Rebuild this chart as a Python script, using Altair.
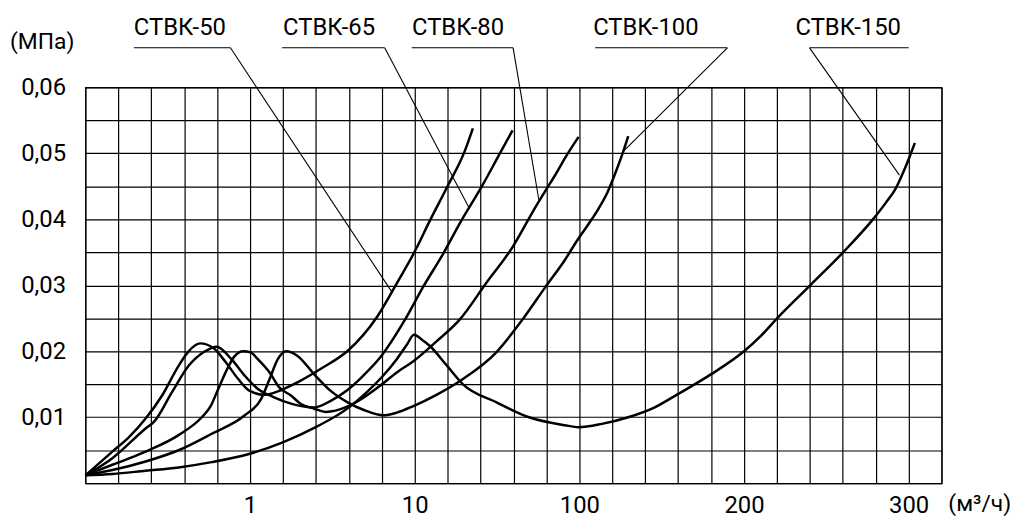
import altair as alt
import pandas as pd

# ---- curve data: flow (m3/h) vs pressure drop (MPa) ----
SERIES = ["СТВК-50", "СТВК-65", "СТВК-80", "СТВК-100", "СТВК-150"]

FLOW_50 = [0, 0.164, 0.265, 0.366, 0.466, 0.566, 0.627, 0.697, 0.777, 0.848, 0.928, 0.998,
           1.80, 2.68, 3.60, 4.96, 6.31, 7.94, 9.02, 10.16, 18.3, 28.3, 37.3, 41.8]
DP_50 = [0.0012, 0.0048, 0.0070, 0.0098, 0.0133, 0.0178, 0.0200, 0.0212, 0.0205, 0.0185, 0.0158, 0.0140,
         0.0134, 0.0141, 0.0153, 0.0175, 0.0200, 0.0252, 0.0303, 0.0352, 0.0398, 0.0452, 0.0503, 0.0538]

FLOW_65 = [0, 0.164, 0.366, 0.416, 0.526, 0.627, 0.727, 0.797, 0.887, 0.968, 1.43, 2.25, 3.33, 4.51,
           5.41, 6.31, 7.22, 8.12, 9.47, 14.7, 25.6, 35.5, 46.3, 56.2, 63.5]
DP_65 = [0.0012, 0.0038, 0.0083, 0.0093, 0.0138, 0.0178, 0.0200, 0.0207, 0.0188, 0.0163, 0.0143, 0.0131, 0.0120, 0.0115,
         0.0125, 0.0141, 0.0164, 0.0191, 0.0248, 0.0298, 0.0348, 0.0398, 0.0448, 0.0498, 0.0535]

FLOW_80 = [0, 0.164, 0.366, 0.566, 0.707, 0.759, 0.807, 0.867, 0.904, 0.958, 1.054, 1.43, 2.07, 2.61, 3.24,
           3.78, 4.51, 5.14, 6.31, 7.22, 8.12, 9.02, 9.93, 21.9, 34.6, 49.0, 63.5, 76.1, 81.6, 87.0, 92.4, 99.6]
DP_80 = [0.0012, 0.0028, 0.0048, 0.0073, 0.0100, 0.0116, 0.0143, 0.0176, 0.0192, 0.0200, 0.0198, 0.0188, 0.0168, 0.0145, 0.0133,
         0.0120, 0.0113, 0.0108, 0.0116, 0.0130, 0.0148, 0.0168, 0.0185, 0.0215, 0.0248, 0.0303, 0.0358, 0.0419, 0.0444, 0.0468, 0.0494, 0.0525]

FLOW_100 = [0, 0.164, 0.366, 0.566, 0.767, 0.968, 1.61, 2.07, 2.52, 2.97, 3.60, 4.51, 5.41, 6.31, 7.22,
            8.30, 9.02, 9.93, 21.9, 36.4, 54.5, 68.9, 81.6, 92.0, 98.8, 105.6, 111.6, 116.9, 122.3, 126.7, 129.7]
DP_100 = [0.0012, 0.0020, 0.0033, 0.0050, 0.0075, 0.0103, 0.0128, 0.0158, 0.0188, 0.0200, 0.0193, 0.0165, 0.0140, 0.0123, 0.0111,
          0.0103, 0.0107, 0.0117, 0.0134, 0.0158, 0.0198, 0.0248, 0.0298, 0.0338, 0.0368, 0.0393, 0.0416, 0.0440, 0.0473, 0.0503, 0.0526]

FLOW_150 = [0, 0.164, 0.366, 0.566, 0.767, 0.988, 2.79, 4.59, 6.41, 7.22, 8.21, 9.02, 9.57, 9.96, 13.8, 18.3,
            27.4, 36.4, 54.5, 72.5, 92.0, 99.6, 113.7, 129.7, 145.8, 159.8, 179.9, 200, 210.1, 220.1, 240.2,
            260.2, 279.3, 286.1, 292.2, 297.0, 300.6, 303.8]
DP_150 = [0.0012, 0.0014, 0.0019, 0.0024, 0.0032, 0.0044, 0.0062, 0.0085, 0.0115, 0.0134, 0.0161, 0.0188, 0.0210, 0.0225, 0.0218, 0.0208,
          0.0179, 0.0150, 0.0123, 0.0100, 0.0088, 0.0085, 0.0090, 0.0100, 0.0115, 0.0135, 0.0165, 0.0200, 0.0223, 0.0250, 0.0300,
          0.0350, 0.0403, 0.0425, 0.0447, 0.0473, 0.0495, 0.0516]

# ---- label / leader annotation data (in data units) ----
LABEL_X = [0.574, 5.32, 33.7, 140.4, 263.3]
LABEL_Y = 0.0679
UNDER_X1 = [0.295, 2.75, 9.84, 109.6, 239.8]
UNDER_X2 = [0.881, 8.36, 63.8, 189.9, 300.0]
UNDER_Y = 0.0660
LEADER_FROM = [0.881, 8.36, 63.8, 189.9, 239.8]
TIP_X = [8.75, 40.0, 77.9, 126.7, 294.4]
TIP_Y = [0.0290, 0.0416, 0.0429, 0.0503, 0.0467]

# ---- axis tick values ----
X_GRID = [0, 0.2, 0.4, 0.6, 0.8, 1, 2.8, 4.6, 6.4, 8.2, 10, 28, 46, 64, 82, 100,
          120, 140, 160, 180, 200, 220, 240, 260, 280, 300, 320]
X_LABELS = [1, 10, 100, 200, 300]
Y_GRID = [0, 0.005, 0.01, 0.015, 0.02, 0.025, 0.03, 0.035, 0.04, 0.045, 0.05, 0.055, 0.06]

rows = []
for name, fl, dp in zip(SERIES, [FLOW_50, FLOW_65, FLOW_80, FLOW_100, FLOW_150],
                        [DP_50, DP_65, DP_80, DP_100, DP_150]):
    for f, d in zip(fl, dp):
        rows.append({"series": name, "flow": f, "dp": d})
curves = pd.DataFrame(rows)

under = pd.DataFrame({"series": SERIES, "flow": UNDER_X1, "flow2": UNDER_X2,
                      "dp": [UNDER_Y] * 5, "dp2": [UNDER_Y] * 5})
leader = pd.DataFrame({"series": SERIES, "flow": LEADER_FROM, "flow2": TIP_X,
                       "dp": [UNDER_Y] * 5, "dp2": TIP_Y})
labels = pd.DataFrame({"series": SERIES, "flow": LABEL_X, "dp": [LABEL_Y] * 5})

W, H = 863, 399
FONT = "Roboto"

x_scale = alt.Scale(domain=[0, 1, 10, 100, 320],
                    range=[0, W * 5 / 26, W * 10 / 26, W * 15 / 26, W],
                    zero=False, nice=False)
y_scale = alt.Scale(domain=[0, 0.06], zero=False, nice=False)

x_axis = alt.Axis(values=X_GRID, grid=True, gridColor="black", gridWidth=1.2, gridOpacity=1,
                  domain=False, ticks=False, tickSize=0, labelOverlap=False, labelFlush=False,
                  labelExpr="indexof(%s, datum.value) >= 0 ? toString(datum.value) : ''" % X_LABELS,
                  labelFont=FONT, labelFontSize=24, labelColor="black", labelPadding=10,
                  title="(м³/ч)", titleFont=FONT, titleFontSize=23, titleFontWeight="normal",
                  titleColor="black", titleX=901, titleY=20, titleAlign="center",
                  titleBaseline="middle", titleAngle=0)
y_axis = alt.Axis(values=Y_GRID, grid=True, gridColor="black", gridWidth=1.2, gridOpacity=1,
                  domain=False, ticks=False, tickSize=0, labelOverlap=False, labelFlush=False,
                  labelExpr="datum.value > 0.0001 && round(datum.value*1000) % 10 == 0 ? "
                            "replace(format(datum.value, '.2f'), '.', ',') : ''",
                  labelFont=FONT, labelFontSize=24, labelColor="black", labelPadding=20,
                  title="(МПа)", titleFont=FONT, titleFontSize=23, titleFontWeight="normal",
                  titleColor="black", titleX=-44, titleY=-46, titleAlign="center",
                  titleBaseline="middle", titleAngle=0)

X = alt.X("flow:Q", scale=x_scale, axis=x_axis)
Y = alt.Y("dp:Q", scale=y_scale, axis=y_axis)

lines = alt.Chart(curves).mark_line(color="black", strokeWidth=2.5, interpolate="monotone").encode(
    x=X, y=Y, detail="series:N")

under_rules = alt.Chart(under).mark_rule(color="black", strokeWidth=1.1).encode(
    x=X, y=Y, x2="flow2:Q", y2="dp2:Q")
leader_rules = alt.Chart(leader).mark_rule(color="black", strokeWidth=1.1).encode(
    x=X, y=Y, x2="flow2:Q", y2="dp2:Q")
texts = alt.Chart(labels).mark_text(font=FONT, fontSize=24, align="center",
                                    baseline="alphabetic", color="black").encode(
    x=X, y=Y, text="series:N")

chart = alt.layer(lines, under_rules, leader_rules, texts).properties(
    width=W, height=H,
    autosize=alt.AutoSizeParams(type="none"),
    padding={"left": 78, "top": 78, "right": 73, "bottom": 34},
    background="white",
).configure_view(stroke="black", strokeWidth=1.2)

chart.save("out.html", embed_options={"renderer": "svg", "actions": False})
